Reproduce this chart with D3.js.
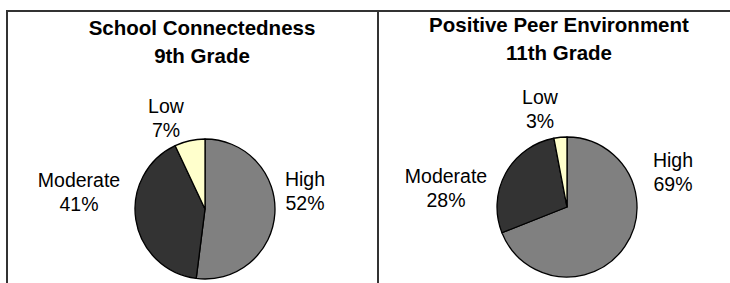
<!DOCTYPE html>
<html>
<head>
<meta charset="utf-8">
<script src="https://cdn.jsdelivr.net/npm/d3@7"></script>
<style>
  body { margin: 0; background: #fff; }
  svg { display: block; font-family: "Liberation Sans", Arial, sans-serif; }
</style>
</head>
<body>
<svg id="chart" width="730" height="283"></svg>
<script>
const categories = ['High', 'Moderate', 'Low'];
const connectedness9th = [52, 41, 7];
const peerEnv11th = [69, 28, 3];
const titles = [
  ['School Connectedness', '9th Grade'],
  ['Positive Peer Environment', '11th Grade'],
];

const colors = d3.scaleOrdinal()
  .domain(categories)
  .range(['#808080', '#333333', '#ffffcc']);

const svg = d3.select('#chart');

// frame lines (top + left edge + divider)
svg.append('line').attr('x1', 6).attr('x2', 730).attr('y1', 11).attr('y2', 11)
  .attr('stroke', '#333').attr('stroke-width', 2);
[7, 378].forEach((x) => {
  svg.append('line').attr('x1', x).attr('x2', x).attr('y1', 10).attr('y2', 283)
    .attr('stroke', '#333').attr('stroke-width', 2);
});

// panel layout: pie center, title center/baseline, label offsets from center
const panels = [
  {
    values: connectedness9th, title: titles[0], cx: 205, cy: 209, tx: 202, ty: 35,
    labelOffsets: [[100, -23], [-126, -22], [-39, -96]],
  },
  {
    values: peerEnv11th, title: titles[1], cx: 567, cy: 207, tx: 559, ty: 32,
    labelOffsets: [[106, -40], [-121, -24], [-27, -103]],
  },
];

const radius = 70;
const pie = d3.pie().sort(null).value((d) => d.value);
const arc = d3.arc().innerRadius(0).outerRadius(radius);

panels.forEach((p) => {
  const data = categories.map((c, i) => ({ category: c, value: p.values[i], offset: p.labelOffsets[i] }));

  svg.append('text')
    .attr('x', p.tx)
    .attr('y', p.ty)
    .attr('text-anchor', 'middle')
    .attr('font-weight', 'bold')
    .attr('font-size', 20.5)
    .selectAll('tspan')
    .data(p.title)
    .join('tspan')
    .attr('x', p.tx)
    .attr('dy', (d, i) => (i ? 28 : 0))
    .text((d) => d);

  const g = svg.append('g').attr('transform', `translate(${p.cx},${p.cy})`);

  g.selectAll('path')
    .data(pie(data))
    .join('path')
    .attr('d', arc)
    .attr('fill', (d) => colors(d.data.category))
    .attr('stroke', '#000')
    .attr('stroke-width', 1.3)
    .attr('stroke-linejoin', 'round');

  g.selectAll('text.lbl')
    .data(data)
    .join('text')
    .attr('class', 'lbl')
    .attr('text-anchor', 'middle')
    .attr('font-size', 19.5)
    .attr('fill', '#000')
    .attr('transform', (d) => `translate(${d.offset[0]},${d.offset[1]})`)
    .selectAll('tspan')
    .data((d) => [d.category, `${d.value}%`])
    .join('tspan')
    .attr('x', 0)
    .attr('dy', (d, i) => (i ? 24 : 0))
    .text((d) => d);
});
</script>
</body>
</html>
